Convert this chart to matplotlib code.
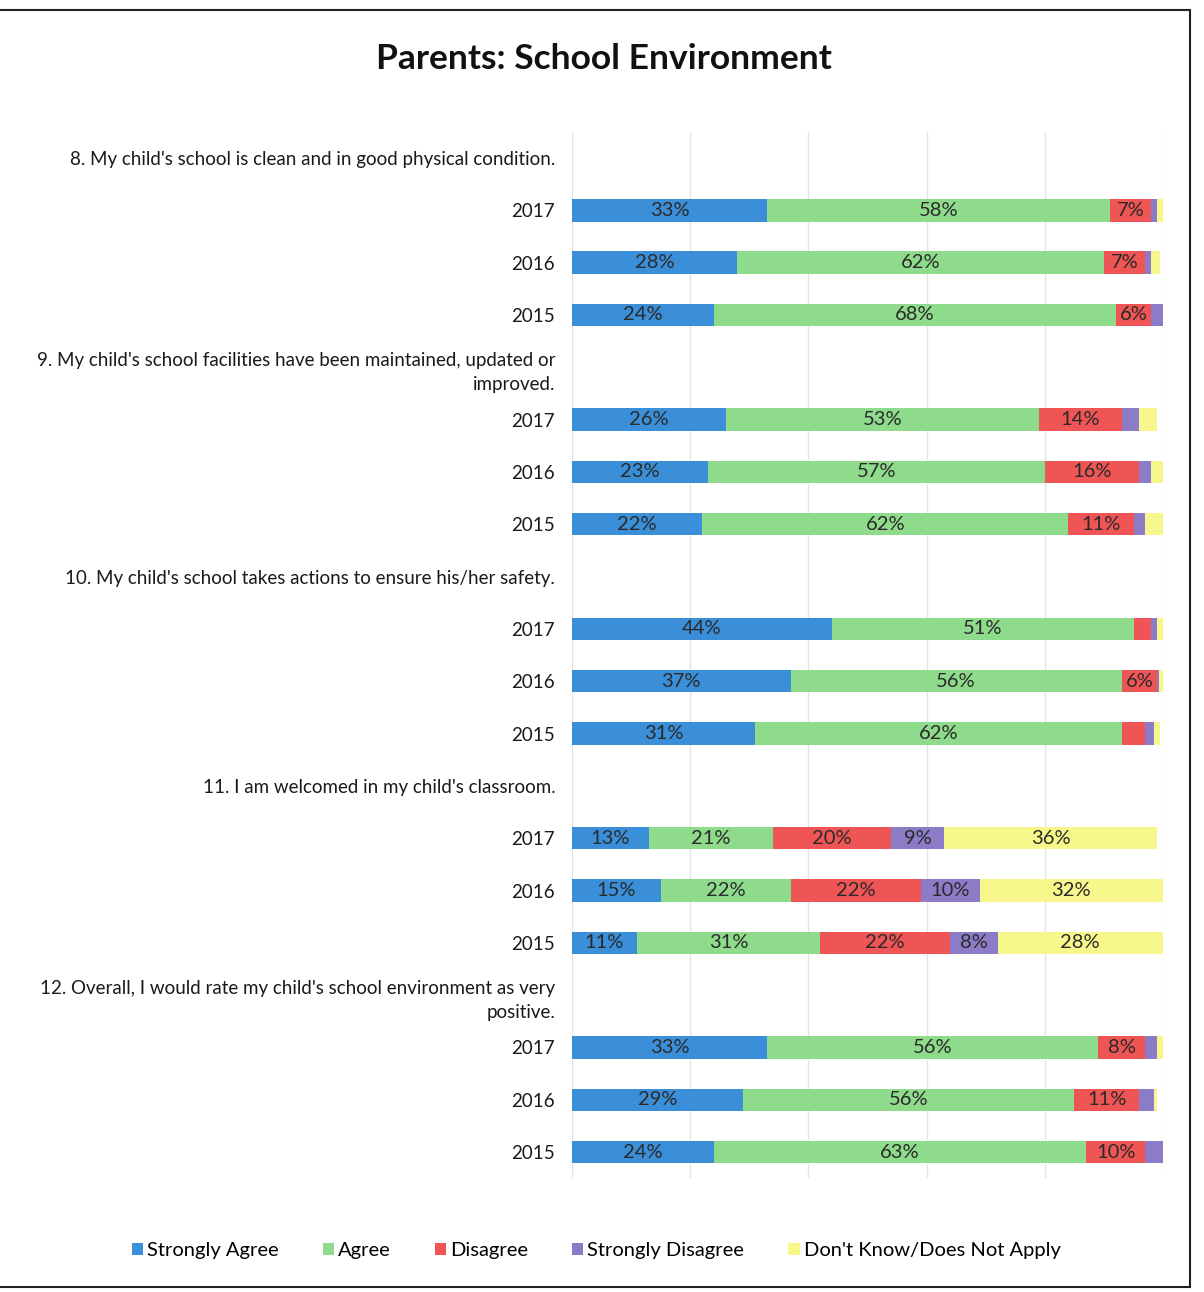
import numpy as np
import matplotlib.pyplot as plt
from matplotlib.patches import Rectangle

plt.rcParams['font.family'] = ['Lato', 'DejaVu Sans']

questions = [
    "8. My child's school is clean and in good physical condition.",
    "9. My child's school facilities have been maintained, updated or\nimproved.",
    "10. My child's school takes actions to ensure his/her safety.",
    "11. I am welcomed in my child's classroom.",
    "12. Overall, I would rate my child's school environment as very\npositive.",
]
years = ["2017", "2016", "2015"]

series = ["Strongly Agree", "Agree", "Disagree", "Strongly Disagree", "Don't Know/Does Not Apply"]
colors = ["#3b8ed8", "#8fdb8c", "#f05555", "#8c7cc8", "#f7f78c"]

# one value per bar, order: Q8 2017/2016/2015, Q9 ..., Q12
strongly_agree = [33, 28, 24, 26, 23, 22, 44, 37, 31, 13, 15, 11, 33, 29, 24]
agree = [58, 62, 68, 53, 57, 62, 51, 56, 62, 21, 22, 31, 56, 56, 63]
disagree = [7, 7, 6, 14, 16, 11, 3, 6, 4, 20, 22, 22, 8, 11, 10]
strongly_disagree = [1, 1, 2, 3, 2, 2, 1, 0.3, 1.5, 9, 10, 8, 2, 2.5, 3]
dont_know = [1, 1.5, 0, 3, 2, 3, 1, 1, 1, 36, 32, 28, 1, 0.5, 0]

values = [strongly_agree, agree, disagree, strongly_disagree, dont_know]

# build rows: question text row then three year rows
row_labels = []
bar_rows = []
r = 0
for q in questions:
    row_labels.append(q)
    r += 1
    for yr in years:
        row_labels.append(yr)
        bar_rows.append(r)
        r += 1
bar_rows = np.array(bar_rows)

fig = plt.figure(figsize=(12.04, 12.92), dpi=100)
ax = fig.add_axes([0.475, 0.088, 0.491, 0.810])

left = np.zeros(len(bar_rows))
for name, vals, c in zip(series, values, colors):
    vals = np.array(vals, dtype=float)
    bars = ax.barh(bar_rows, vals, left=left, height=0.43, color=c, label=name, zorder=3)
    labs = [f"{v:.0f}%" if v >= 5 else "" for v in vals]
    ax.bar_label(bars, labels=labs, label_type='center', fontsize=14.5, color='#2a2a2a')
    left += vals

ax.set_xlim(0, 100)
ax.set_ylim(len(row_labels) - 0.5, -0.5)
ax.set_yticks(range(len(row_labels)))
ax.set_yticklabels(row_labels, fontsize=13.5, color='#1a1a1a', linespacing=1.55)
ax.tick_params(axis='y', length=0, pad=12)
ax.set_xticks([0, 20, 40, 60, 80, 100])
ax.tick_params(axis='x', length=0, labelbottom=False)
ax.grid(axis='x', color='#e4e4e4', lw=1, zorder=0)
for s in ax.spines.values():
    s.set_visible(False)

fig.text(0.502, 0.954, "Parents: School Environment", ha='center', va='center',
         fontsize=25.5, fontweight='bold', color='#111111')

fig.legend(loc='center', bbox_to_anchor=(0.495, 0.032), ncol=5, frameon=False,
           fontsize=14.5, handlelength=0.55, handleheight=0.55, handletextpad=0.2,
           columnspacing=2.2)

fig.patches.append(Rectangle((-0.01, 0.004), 0.998, 0.988, transform=fig.transFigure,
                             fill=False, lw=1.5, edgecolor='#222222'))

fig.savefig("out.png", dpi=100)
